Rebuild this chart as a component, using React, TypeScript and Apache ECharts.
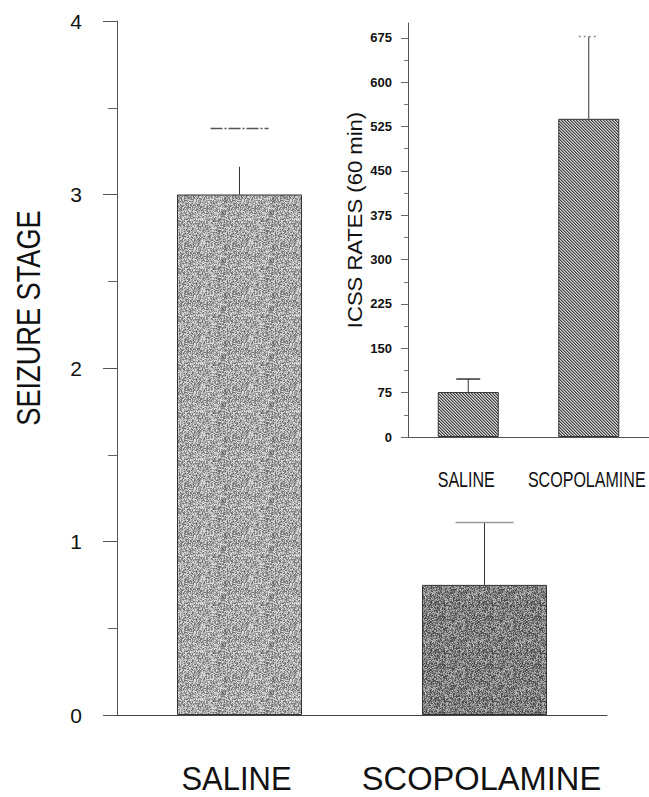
import React, { useEffect, useRef } from "react";
import * as echarts from "echarts";

// ---- data ----
const categories = ["SALINE", "SCOPOLAMINE"];
const seizureMean = [3.0, 0.75];
const seizureStemTop = [3.16, 1.11];
const seizureCap = [3.38, 1.11];
const seizureTicks = [0, 1, 2, 3, 4];

const icssMean = [76, 538];
const icssErrTop = [98, 677];
const icssTicks = [0, 75, 150, 225, 300, 375, 450, 525, 600, 675];

const SANS = '"Liberation Sans", Arial, sans-serif';

function hash(x: number, y: number, seed: number) {
  let h = Math.imul(x, 73856093) ^ Math.imul(y, 19349663) ^ Math.imul(seed, 83492791);
  h = Math.imul(h ^ (h >>> 13), 1274126177);
  h = (h ^ (h >>> 16)) >>> 0;
  return (h % 1000) / 1000;
}

function stipple(base: number, spread: number, seed: number) {
  const n = 48;
  const c = document.createElement("canvas");
  c.width = n;
  c.height = n;
  const ctx = c.getContext("2d")!;
  const img = ctx.createImageData(n, n);
  for (let y = 0; y < n; y++) {
    for (let x = 0; x < n; x++) {
      const v = Math.max(0, Math.min(255, base + (hash(x, y, seed) - 0.5) * spread));
      const i = (y * n + x) * 4;
      img.data[i] = v;
      img.data[i + 1] = v;
      img.data[i + 2] = v;
      img.data[i + 3] = 255;
    }
  }
  ctx.putImageData(img, 0, 0);
  return c;
}

function hatch() {
  const n = 6;
  const c = document.createElement("canvas");
  c.width = n;
  c.height = n;
  const ctx = c.getContext("2d")!;
  const img = ctx.createImageData(n, n);
  for (let y = 0; y < n; y++) {
    for (let x = 0; x < n; x++) {
      const d = (((x - y) % 3) + 3) % 3;
      const v = d === 0 ? 60 : d === 1 ? 150 : 215;
      const i = (y * n + x) * 4;
      img.data[i] = v;
      img.data[i + 1] = v;
      img.data[i + 2] = v;
      img.data[i + 3] = 255;
    }
  }
  ctx.putImageData(img, 0, 0);
  return c;
}

export default function App() {
  const ref = useRef<HTMLDivElement>(null);
  useEffect(() => {
    if (!ref.current) return;
    const chart = echarts.init(ref.current, undefined, { renderer: "svg" });

    const mainFills = [
      { image: stipple(168, 130, 1), repeat: "repeat" },
      { image: stipple(128, 130, 2), repeat: "repeat" },
    ];
    const insetFill = { image: hatch(), repeat: "repeat" };
    const mainCapColors = ["#555", "#999"];
    const mainCapHalf = 29;
    const insetCapHalf = [12, 10];
    const insetCapColors = ["#333", "#888"];

    const errRender = (capHalf: number[], capColors: string[], capDash: (number[] | null)[]) =>
      (params: any, api: any) => {
        const i = params.dataIndex;
        const x = api.value(0);
        const p0 = api.coord([x, api.value(1)]);
        const p1 = api.coord([x, api.value(2)]);
        const pc = api.coord([x, api.value(3)]);
        return {
          type: "group",
          children: [
            {
              type: "line",
              shape: { x1: p0[0], y1: p0[1], x2: p1[0], y2: p1[1] },
              style: { stroke: "#333", lineWidth: 1 },
            },
            {
              type: "line",
              shape: { x1: pc[0] - capHalf[i], y1: pc[1], x2: pc[0] + capHalf[i], y2: pc[1] },
              style: { stroke: capColors[i], lineWidth: 1.5, lineDash: capDash[i] || undefined },
            },
          ],
        };
      };

    chart.setOption({
      animation: false,
      backgroundColor: "#ffffff",
      grid: [
        { left: 117, top: 21, width: 490, height: 694 },
        { left: 408, top: 23, width: 241, height: 414 },
      ],
      xAxis: [
        {
          type: "category",
          gridIndex: 0,
          data: categories,
          axisLine: { lineStyle: { color: "#444", width: 1 } },
          axisTick: { show: false },
          axisLabel: { show: false },
        },
        {
          type: "category",
          gridIndex: 1,
          data: categories,
          axisLine: { lineStyle: { color: "#555", width: 1 } },
          axisTick: { show: false },
          axisLabel: { show: false },
        },
      ],
      yAxis: [
        {
          type: "value",
          gridIndex: 0,
          min: 0,
          max: 4,
          interval: 1,
          splitLine: { show: false },
          axisLine: { show: true, lineStyle: { color: "#555", width: 1 } },
          axisTick: { show: true, length: 14, lineStyle: { color: "#555" }, customValues: seizureTicks },
          minorTick: { show: true, splitNumber: 2, length: 9, lineStyle: { color: "#666" } },
          axisLabel: {
            margin: 35,
            fontSize: 21,
            fontFamily: SANS,
            color: "#111",
            customValues: seizureTicks,
          },
        },
        {
          type: "value",
          gridIndex: 1,
          min: 0,
          max: 700,
          interval: 75,
          splitLine: { show: false },
          axisLine: { show: true, lineStyle: { color: "#555", width: 1 } },
          axisTick: { show: true, length: 7, lineStyle: { color: "#666" }, customValues: icssTicks },
          minorTick: { show: true, splitNumber: 2, length: 4, lineStyle: { color: "#777" } },
          axisLabel: {
            margin: 16,
            fontSize: 13,
            fontWeight: "bold",
            fontFamily: SANS,
            color: "#111",
            customValues: icssTicks,
          },
        },
      ],
      series: [
        {
          type: "bar",
          xAxisIndex: 0,
          yAxisIndex: 0,
          barWidth: 125,
          data: seizureMean.map((v, i) => ({
            value: v,
            itemStyle: { color: mainFills[i], borderColor: "#333", borderWidth: 1 },
          })),
        },
        {
          type: "custom",
          xAxisIndex: 0,
          yAxisIndex: 0,
          z: 5,
          renderItem: errRender([mainCapHalf, mainCapHalf], mainCapColors, [[12, 2, 2, 2], null]),
          data: categories.map((_, i) => [i, seizureMean[i], seizureStemTop[i], seizureCap[i]]),
        },
        {
          type: "bar",
          xAxisIndex: 1,
          yAxisIndex: 1,
          barWidth: 61,
          data: icssMean.map((v) => ({
            value: v,
            itemStyle: { color: insetFill, borderColor: "#333", borderWidth: 1 },
          })),
        },
        {
          type: "custom",
          xAxisIndex: 1,
          yAxisIndex: 1,
          z: 5,
          renderItem: errRender(insetCapHalf, insetCapColors, [null, [2, 3]]),
          data: categories.map((_, i) => [i, icssMean[i], icssErrTop[i], icssErrTop[i]]),
        },
      ],
    });

    // condensed category labels, placed from the axes' own scales
    const mainBase = chart.convertToPixel({ yAxisIndex: 0 }, 0) as number;
    const insetBase = chart.convertToPixel({ yAxisIndex: 1 }, 0) as number;
    const mainLabelScale = [0.91, 0.96];
    const catLabels: any[] = [];
    categories.forEach((c, i) => {
      const xm = chart.convertToPixel({ xAxisIndex: 0 }, i) as number;
      catLabels.push({
        type: "text",
        x: xm - 3,
        y: mainBase + 63,
        scaleX: mainLabelScale[i],
        style: {
          text: c,
          font: `34px ${SANS}`,
          fill: "#111",
          align: "center",
          verticalAlign: "middle",
        },
      });
      const xi = chart.convertToPixel({ xAxisIndex: 1 }, i) as number;
      catLabels.push({
        type: "text",
        x: xi - 2,
        y: insetBase + 43,
        scaleX: 0.73,
        style: {
          text: c,
          font: `22px ${SANS}`,
          fill: "#111",
          align: "center",
          verticalAlign: "middle",
        },
      });
    });

    chart.setOption({
      graphic: [
        {
          type: "text",
          x: 28,
          y: 318,
          rotation: Math.PI / 2,
          scaleX: 0.8,
          style: {
            text: "SEIZURE STAGE",
            font: `34px ${SANS}`,
            fill: "#111",
            align: "center",
            verticalAlign: "middle",
          },
        },
        {
          type: "text",
          x: 355,
          y: 220,
          rotation: Math.PI / 2,
          scaleX: 1.05,
          style: {
            text: "ICSS RATES (60 min)",
            font: `21px ${SANS}`,
            fill: "#111",
            align: "center",
            verticalAlign: "middle",
          },
        },
        ...catLabels,
      ],
    });
    return () => chart.dispose();
  }, []);
  return (
    <div
      ref={ref}
      style={{ position: "fixed", left: 0, top: 0, width: 649, height: 797, background: "#fff" }}
    />
  );
}
